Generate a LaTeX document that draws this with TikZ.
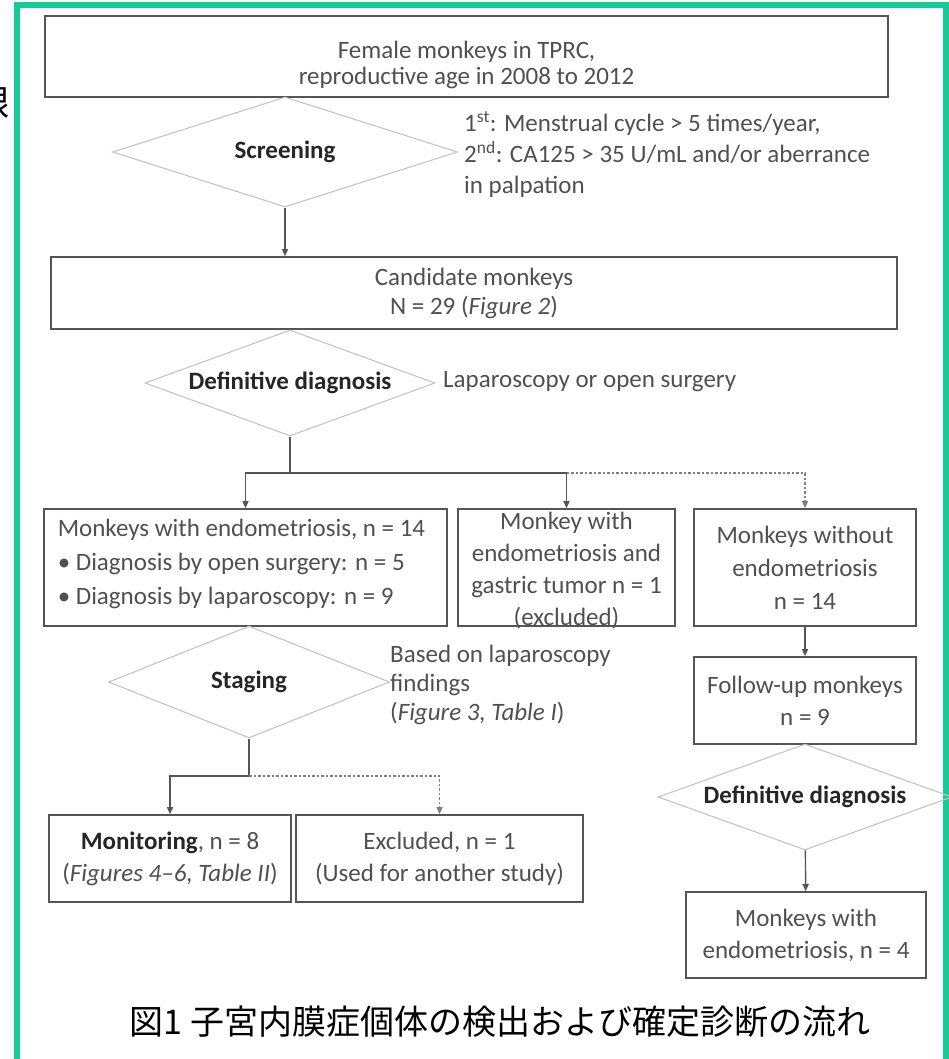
\documentclass[tikz,border=0pt]{standalone}
\usepackage{fontspec}
\setmainfont{Carlito}
\newfontfamily\cjk{Noto Sans CJK JP}
\usetikzlibrary{shapes.geometric,arrows.meta}

\definecolor{framegreen}{RGB}{20,204,150}
\definecolor{boxline}{RGB}{85,85,85}
\definecolor{diagray}{RGB}{196,196,196}
\definecolor{txtgray}{RGB}{80,80,80}

\tikzset{
  box/.style={draw=boxline, line width=1.6pt, fill=white, inner sep=0pt, align=center,
    text=txtgray, font=\fontsize{25}{32}\selectfont},
  boxtext/.style={inner sep=0pt, align=center, text=txtgray},
  decision/.style={diamond, aspect=2.7, draw=diagray, line width=1.1pt, inner sep=0pt,
    text=black!85, font=\fontsize{25}{30}\selectfont\bfseries},
  note/.style={anchor=west, align=left, inner sep=0pt, text=txtgray,
    font=\fontsize{25}{31}\selectfont},
  flow/.style={draw=boxline, line width=1.4pt, -{Triangle[length=7pt,width=6pt]}},
  dotline/.style={draw=gray, line width=1.3pt, dash pattern=on 2.5pt off 2pt,
    -{Triangle[length=7pt,width=6pt]}}
}

\begin{document}
\begin{tikzpicture}[x=1pt,y=-1pt]
\useasboundingbox (0,0) rectangle (949,1059);

% frame
\draw[framegreen, line width=6pt] (17,1070) -- (17,5) -- (946,5) -- (946,1070);

% glyph cut by the left edge
\node[font=\cjk\fontsize{35}{35}\selectfont, inner sep=0pt] (edgeglyph) at (-8,103) {眼};

% population
\node[box, minimum width=843, minimum height=81,
  label={[boxtext, yshift=-8pt, font=\fontsize{25}{26}\selectfont]center:{Female monkeys in TPRC,\\reproductive age in 2008 to 2012}}]
  (female) at (466.5,56.5) {};

% screening
\node[decision, minimum width=345, minimum height=110] (screen) at (285,152) {Screening};
\node[note, font=\fontsize{25}{31}\selectfont] (screennote) at (464,154)
  {1\textsuperscript{st}: Menstrual cycle > 5 times/year,\\2\textsuperscript{nd}: CA125 > 35 U/mL and/or aberrance\\in palpation};

% candidates
\node[box, minimum width=846, minimum height=72, font=\fontsize{25}{29}\selectfont] (cand) at (474,293)
  {Candidate monkeys\\N = 29 (\textit{Figure 2})};
\draw[flow] (screen.south) -- (screen.south |- cand.north);

% definitive diagnosis
\node[decision, minimum width=290, minimum height=106] (defdiag) at (290,383) {Definitive diagnosis};
\node[note] (defnote) at (443,382) {Laparoscopy or open surgery};

% three outcomes
\node[box, minimum width=403, minimum height=117,
  label={[boxtext, align=left, xshift=-4pt, yshift=4pt, font=\fontsize{25}{34}\selectfont]center:{Monkeys with endometriosis, n = 14\\\textbullet{} Diagnosis by open surgery: n = 5\\\textbullet{} Diagnosis by laparoscopy: n = 9}}]
  (endo) at (245.5,567.5) {};
\node[box, minimum width=217, minimum height=117,
  label={[boxtext, yshift=-3pt, font=\fontsize{25}{32}\selectfont]center:{Monkey with\\endometriosis and\\gastric tumor n = 1\\(excluded)}}]
  (gastric) at (566.5,567.5) {};
\node[box, minimum width=222, minimum height=117, font=\fontsize{25}{33}\selectfont] (noendo) at (805,567.5)
  {Monkeys without\\endometriosis\\n = 14};

% split below diagnosis
\coordinate (split) at (290,473);
\draw[boxline, line width=1.4pt] (defdiag.south) -- (split);
\draw[flow] (split) -| (endo.north);
\draw[flow] (split) -| (gastric.north);
\draw[dotline] (gastric.north |- split) -| (noendo.north);

% staging
\node[decision, minimum width=281, minimum height=112] (staging) at (249,682) {Staging};
\node[note, font=\fontsize{25}{29}\selectfont] (stagenote) at (390,685)
  {Based on laparoscopy\\findings\\(\textit{Figure 3, Table I})};

\node[box, minimum width=242, minimum height=87] (monitor) at (170,858.5)
  {\textbf{\color{black!85}Monitoring}, n = 8\\(\textit{Figures 4--6, Table II})};
\node[box, minimum width=287, minimum height=87] (excl) at (439.5,858.5)
  {Excluded, n = 1\\(Used for another study)};

% split below staging
\coordinate (split2) at (249,776);
\draw[boxline, line width=1.4pt] (staging.south) -- (split2);
\draw[flow] (split2) -| (monitor.north);
\draw[dotline] (split2) -| (excl.north);

% follow-up column
\node[box, minimum width=222, minimum height=87] (followup) at (805,700.5) {Follow-up monkeys\\n = 9};
\node[decision, minimum width=294, minimum height=106] (defdiag2) at (805,797) {Definitive diagnosis};
\node[box, minimum width=240, minimum height=86] (endo2) at (806,935) {Monkeys with\\endometriosis, n = 4};
\draw[flow] (noendo) -- (followup);
\draw[flow] (defdiag2) -- (endo2);

% caption
\node[font=\cjk\fontsize{34}{34}\selectfont] (caption) at (500,1022)
  {図1 子宮内膜症個体の検出および確定診断の流れ};

\end{tikzpicture}
\end{document}
